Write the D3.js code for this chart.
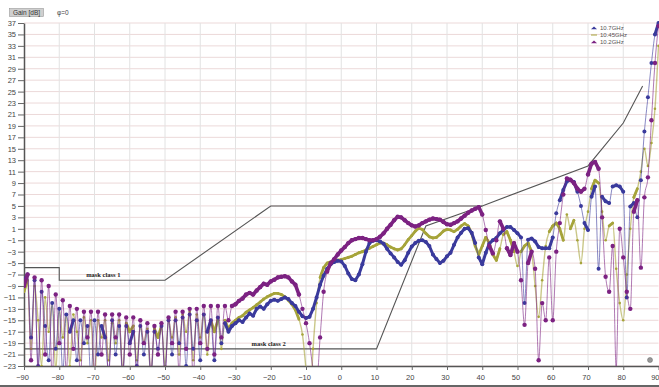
<!DOCTYPE html>
<html>
<head>
<meta charset="utf-8">
<script src="https://cdn.jsdelivr.net/npm/d3@7/dist/d3.min.js"></script>
<style>
  html, body { margin: 0; padding: 0; background: #fff; }
  svg { display: block; }
  .tick text { font-family: "Liberation Sans", Arial, sans-serif; }
</style>
</head>
<body>
<svg id="chart" width="659" height="387"></svg>
<script>
// Azimuth angles in degrees, 1° steps from -90 to 90
const angles = d3.range(-90, 91, 1);

// Measured gain [dB] per frequency, one value per angle
const gain10_2 = [
  -9, -7, -22, -7.5, -24, -8, -21, -9, -25, -10.5,
  -19, -11.5, -24, -12.5, -20, -13, -25, -13.5, -18, -13.5,
  -24, -13.5, -21, -14, -25, -14, -18, -14, -24, -14.5,
  -21, -14.5, -25, -15, -19, -15.5, -24, -16, -21, -15.5,
  -25, -14.5, -19, -13.5, -24, -13.5, -20, -13, -25, -13,
  -19, -12.5, -20, -12.5, -21, -12.5, -18, -12.5, -15, -12.5,
  -12.2, -11.6, -11.2, -10.5, -10.2, -10.5, -9.8, -9.2, -8.6, -8.8,
  -8.2, -7.9, -7.5, -7.4, -7.3, -7.5, -8.2, -8.8, -10.5, -13,
  -15.5, -19, -23.5, -26, -18, -10, -6.5, -5, -4.3, -3.5,
  -2.8, -2.2, -1.5, -1.0, -0.8, -0.6, -0.6, -0.8, -1.0, -1.0,
  -0.8, -0.4, 0.2, 1.0, 1.7, 2.5, 3.1, 3.0, 2.5, 2.0,
  1.6, 1.4, 1.6, 2.0, 2.3, 2.6, 2.8, 2.7, 2.6, 2.2,
  1.8, 1.7, 2.0, 2.3, 2.8, 3.3, 3.8, 4.2, 4.5, 4.8,
  3.5, 0.8, -2.0, -3.3, -1.0, 2.3, 1.0, -2.4, -3.6, -1.5,
  -3, -8, -15.8, -5, -3, -6, -22, -12, -15, -4,
  -15, -3, 2, 7, 9.8, 9.6, 9.0, 8.0, 7.5, 8.0,
  10.5, 12.4, 12.7, 11.5, 3, -7.4, -10, -2, -23.5, 1,
  -4, -10, -13, 4, 6, -5.8, 6.5, 10, 20, 30,
  36.5
];

const gain10_45 = [
  -10, -8, -20, -9, -15, -23, -11, -17, -12, -24,
  -13, -18, -14, -23, -14, -17, -22, -14.5, -19, -15,
  -26, -15, -18, -15, -22, -15.5, -19, -15, -24, -15.5,
  -17, -16, -22, -16, -19, -16.5, -25, -16.5, -18, -16,
  -23, -15, -18, -14.5, -21, -14, -17, -13.5, -22, -14,
  -18, -14, -21, -15, -17, -15, -20, -15, -16.5, -15.5,
  -15, -14.5, -14.2, -13.6, -13.2, -12.8, -12.3, -11.8, -11.3, -10.9,
  -10.6, -10.3, -10.3, -10.5, -10.9, -11.5, -12.2, -13.2, -14.8, -17.5,
  -23.5, -30, -20, -12, -7.5, -5.8, -5, -4.8, -4.6, -4.5,
  -4.4, -4.2, -4.0, -3.8, -3.5, -3.2, -3.0, -2.7, -2.4, -2.1,
  -1.8, -1.5, -1.5, -1.8, -2.2, -2.5, -2.7, -2.5, -1.8, -0.9,
  -0.2, 0.6, 1.1, 0.9, 0.2, -0.4, -0.6, -0.5, 0, 0.6,
  0.9, 0.8, 0.5, 0.9, 1.5, 1.9, 1.5, 0.2, -2, -3.5,
  -2, -0.5, -1.5, -3.5, -4.5, -2.5, 0, 0.5, -1, -3,
  -5.5, -3, -2, -1.5, -3, -9, -14.4, -8, -2, 0.5,
  1.5, 2, 1, -1, 3.5, 1, 2.5, -1, -5, 1,
  4, 8, 9.5, 9, 4, -1, 1.5, 2, -6, -12,
  -15, -7, 1, 6.5, 8, 11, 15, 12, 16, 22,
  33
];

const gain10_7 = [
  -8, -7, -18, -8, -23, -10, -16, -22, -12, -20,
  -13, -24, -14, -17, -15, -22, -15, -19, -16, -25,
  -15, -21, -16, -18, -24, -15, -21, -16, -25, -16,
  -19, -17, -23, -16, -21, -17, -25, -17, -20, -16,
  -24, -15, -21, -15, -19, -14.5, -23, -14, -20, -15,
  -22, -14, -17, -15, -22, -14.5, -19, -15.5, -17, -16,
  -15.5, -15, -15.3, -14.5, -13.8, -14.2, -13, -12.6, -13, -12.2,
  -11.6, -11.4, -11.6, -11.3, -11.0, -11.3, -12, -12.5, -13.5, -14.3,
  -14.6, -14.4, -13, -11, -8.8, -7.2, -6, -5.2, -4.8, -4.6,
  -4.7, -5.5, -6.8, -7.8, -8, -7, -5.2, -3, -1.5, -1.1,
  -1, -1.2, -1.6, -2.5, -3.3, -4, -4.8, -5.3, -4.5, -3.2,
  -2.1, -1.5, -1.1, -1, -1.3, -2, -3.5, -4.3, -5, -4.6,
  -3.8, -3.2, -1.8, -0.5, 0.3, 1.0, 1.1, 0.3, -1.5, -4,
  -5.2, -3.2, -1.6, -1, -0.6, 0.2, 0.8, 1.3, 1.3, 0.8,
  0.2, -0.5, -12, -0.9, -0.7, -1.2, -2.2, -2.4, -2.4, -2.4,
  -0.5, 3.7, 6, 7.8, 9.3, 9.5, 9.2, 7.5, 5, 2,
  0.8, 6.6, 8.4, -6, 6.6, 5.8, 5.5, 8.4, 8.6, 8.4,
  7.5, -11, 4.9, 5.5, 3, 9.5, 18, 24, 30, 35,
  37
];

// Antenna radiation pattern envelopes: [angle, gain]
const maskClass1 = [[-90, -5.8], [-80, -5.8], [-80, -8], [-50, -8], [-20, 5], [40, 5], [70, 12], [80, 19.5], [85.5, 26]];
const maskClass2 = [[-90, -20], [10, -20], [24, 1.5], [40, 5]];

const yTicks = d3.range(-23, 38, 2);
const xTicks = d3.range(-90, 91, 10);

const seriesNames = ["10.7GHz", "10.45GHz", "10.2GHz"];
const seriesColors = ["#3a3a9c", "#a6a43a", "#7c2282"];

const svg = d3.select("#chart");
const x = d3.scaleLinear().domain([-90, 90]).range([24, 658.5]);
const y = d3.scaleLinear().domain([-23, 37]).range([366, 23]);

// grid
const grid = svg.append("g");
grid.selectAll("line.h").data(yTicks).join("line")
  .attr("x1", x(-90)).attr("x2", x(90))
  .attr("y1", d => y(d)).attr("y2", d => y(d))
  .attr("stroke", "#ecd9d9").attr("stroke-width", 1);
grid.selectAll("line.v").data(xTicks.slice(1, -1)).join("line")
  .attr("x1", d => x(d)).attr("x2", d => x(d))
  .attr("y1", y(37)).attr("y2", y(-23))
  .attr("stroke", "#e2e2e2").attr("stroke-width", 1);

// axes
const yAxis = svg.append("g").attr("transform", `translate(${x(-90)},0)`)
  .call(d3.axisLeft(y).tickValues(yTicks).tickSize(6).tickPadding(2).tickSizeOuter(0));
yAxis.selectAll("text").attr("font-size", 7.5).attr("fill", "#444");
yAxis.selectAll("line").attr("stroke", "#666");
yAxis.select(".domain").attr("stroke", "#555").attr("stroke-width", 1.5);

const xAxis = svg.append("g").attr("transform", `translate(0,${y(-23)})`)
  .call(d3.axisBottom(x).tickValues(xTicks).tickSize(4).tickPadding(5).tickSizeOuter(0));
xAxis.selectAll("text").attr("font-size", 7.5).attr("fill", "#444").attr("dx", -2);
xAxis.selectAll(".tick").filter(d => d === 90).select("text")
  .attr("text-anchor", "end").attr("dx", 0.5);
xAxis.selectAll("line").attr("stroke", "#666");
xAxis.select(".domain").attr("stroke", "#555").attr("stroke-width", 1.5);

svg.append("line").attr("x1", 0).attr("x2", 659).attr("y1", 386).attr("y2", 386)
  .attr("stroke", "#333").attr("stroke-width", 1.5);

// plot area clip
svg.append("clipPath").attr("id", "plot")
  .append("rect").attr("x", x(-90)).attr("y", y(37) - 3)
  .attr("width", x(90) - x(-90) + 2).attr("height", y(-23) - y(37) + 3);

const plot = svg.append("g").attr("clip-path", "url(#plot)");

// masks
const maskLine = d3.line().x(d => x(d[0])).y(d => y(d[1]));
[maskClass1, maskClass2].forEach(m => {
  plot.append("path").attr("d", maskLine(m))
    .attr("fill", "none").attr("stroke", "#555").attr("stroke-width", 1.1);
});
svg.append("text").attr("x", x(-67.5)).attr("y", 277)
  .attr("font-family", "Liberation Serif, serif").attr("font-weight", "bold")
  .attr("font-size", 6.5).attr("text-anchor", "middle").attr("fill", "#222").text("mask class 1");
svg.append("text").attr("x", x(-20.6)).attr("y", 346)
  .attr("font-family", "Liberation Serif, serif").attr("font-weight", "bold")
  .attr("font-size", 6.5).attr("text-anchor", "middle").attr("fill", "#222").text("mask class 2");

// series: thin curve, dots at every sample, and a heavier trace where
// neighbouring samples are close (the dense markers there merge into a band)
const series = [
  { name: seriesNames[1], color: seriesColors[1], values: gain10_45, width: 1.4, band: 2.8, r: 1.3 },
  { name: seriesNames[0], color: seriesColors[0], values: gain10_7, width: 1.0, band: 3.0, r: 2.0 },
  { name: seriesNames[2], color: seriesColors[2], values: gain10_2, width: 1.0, band: 3.6, r: 2.2 }
];
const line = d3.line().x((d, i) => x(angles[i])).y(d => y(d)).curve(d3.curveMonotoneX);
series.forEach(s => {
  const g = plot.append("g");
  g.append("path").attr("d", line(s.values))
    .attr("fill", "none").attr("stroke", s.color).attr("stroke-width", s.width)
    .attr("stroke-opacity", 0.6).attr("stroke-linejoin", "round");
  const pairs = d3.pairs(s.values.map((v, i) => [angles[i], v]))
    .filter(([a, b]) => Math.abs(a[1] - b[1]) <= 2.2);
  g.selectAll("line.band").data(pairs).join("line")
    .attr("x1", d => x(d[0][0])).attr("y1", d => y(d[0][1]))
    .attr("x2", d => x(d[1][0])).attr("y2", d => y(d[1][1]))
    .attr("stroke", s.color).attr("stroke-width", s.band).attr("stroke-linecap", "round");
  g.selectAll("circle").data(s.values).join("circle")
    .attr("cx", (d, i) => x(angles[i])).attr("cy", d => y(d))
    .attr("r", s.r).attr("fill", s.color);
});

// header
svg.append("rect").attr("x", 9.5).attr("y", 8.5).attr("width", 34).attr("height", 8)
  .attr("fill", "#cfcfcf").attr("stroke", "#999").attr("stroke-width", 0.6);
svg.append("text").attr("x", 26.5).attr("y", 15).attr("text-anchor", "middle")
  .attr("font-family", "Liberation Sans, Arial, sans-serif").attr("font-size", 6.5)
  .attr("fill", "#333").text("Gain [dB]");
svg.append("text").attr("x", 57).attr("y", 15)
  .attr("font-family", "Liberation Sans, Arial, sans-serif").attr("font-size", 6.5)
  .attr("fill", "#444").text("φ=0");

// legend
const legend = svg.append("g").attr("transform", "translate(590,28)");
seriesNames.forEach((n, i) => {
  const row = legend.append("g").attr("transform", `translate(0,${i * 7})`);
  if (i === 1) {
    row.append("line").attr("x1", 1).attr("x2", 7).attr("y1", 0).attr("y2", 0)
      .attr("stroke", seriesColors[i]).attr("stroke-width", 1);
  } else {
    row.append("path").attr("d", "M1,1.3 L4,-1.6 L7,1.3 Z").attr("fill", seriesColors[i]);
  }
  row.append("text").attr("x", 10).attr("y", 2.2)
    .attr("font-family", "Liberation Sans, Arial, sans-serif").attr("font-size", 6)
    .attr("fill", "#555").text(n);
});

// corner marker
svg.append("circle").attr("cx", 650).attr("cy", 360).attr("r", 2.5)
  .attr("fill", "#999").attr("stroke", "#666").attr("stroke-width", 0.5);
</script>
</body>
</html>
